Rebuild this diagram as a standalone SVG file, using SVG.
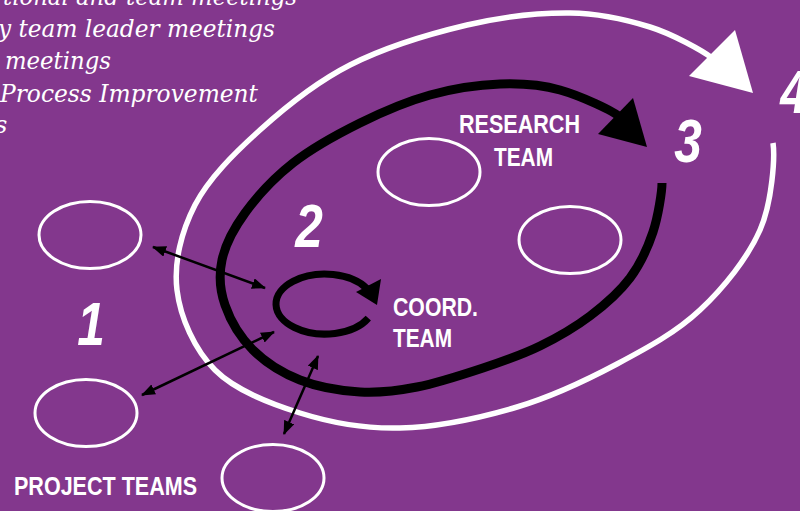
<svg xmlns="http://www.w3.org/2000/svg" width="800" height="511" viewBox="0 0 800 511">
<defs>
<style>
.bg{fill:#83378D}
.team{fill:none;stroke:#fff;stroke-width:3}
.note{font-family:"DejaVu Serif","Liberation Serif",serif;font-style:italic;font-size:24px;fill:#fff}
.lbl{font-family:"Liberation Sans",Arial,sans-serif;font-weight:bold;font-size:25px;fill:#fff}
.num{font-family:"Liberation Sans",Arial,sans-serif;font-weight:bold;font-style:italic;font-size:62px;fill:#fff;text-anchor:middle}
.link{stroke:#000;stroke-width:2.5;fill:none;marker-start:url(#ah);marker-end:url(#ah)}
</style>
<marker id="ah" viewBox="0 0 14 11" refX="13" refY="5.5" markerWidth="14" markerHeight="11" markerUnits="userSpaceOnUse" orient="auto-start-reverse">
<path d="M0,0 L14,5.5 L0,11 z" fill="#000"/>
</marker>
</defs>
<rect class="bg" x="0" y="0" width="800" height="511"/>

<g id="notes">
<text class="note" x="3" y="5" textLength="294" lengthAdjust="spacingAndGlyphs">tional and team meetings</text>
<text class="note" x="-2" y="37" textLength="277" lengthAdjust="spacingAndGlyphs">y team leader meetings</text>
<text class="note" x="5" y="69" textLength="106" lengthAdjust="spacingAndGlyphs">meetings</text>
<text class="note" x="0" y="102" textLength="258" lengthAdjust="spacingAndGlyphs">Process Improvement</text>
<text class="note" x="-5" y="133">s</text>
</g>

<g id="stage-rings">
<path d="M773,143 C775,157 772.2,202.2 760,230 C747.8,257.8 723.8,287.7 700,310 C676.2,332.3 647.5,347.8 617,364 C586.5,380.2 553.2,396.3 517,407 C480.8,417.7 436.2,427 400,428 C363.8,429 330.8,422.7 300,413 C269.2,403.3 235.5,390.5 215,370 C194.5,349.5 180.3,317.5 177,290 C173.7,262.5 181.2,231.7 195,205 C208.8,178.3 234.2,153.3 260,130 C285.8,106.7 315.5,82.5 350,65 C384.5,47.5 430.3,33.7 467,25 C503.7,16.3 539.5,12.7 570,13 C600.5,13.3 627.5,20 650,27 C672.5,34 703,51 712,58" fill="none" stroke="#fff" stroke-width="5.5"/>
<polygon points="735,30 753,93 689,76" fill="#fff"/>
<path d="M662,183 C662,191 658.3,216.2 653,232 C647.7,247.8 640.5,264 630,278 C619.5,292 605,304.7 590,316 C575,327.3 557.8,337.3 540,346 C522.2,354.7 503.5,361.2 483,368 C462.5,374.8 437.5,383 417,387 C396.5,391 379.5,393.2 360,392 C340.5,390.8 317.8,387 300,380 C282.2,373 265.5,362.5 253,350 C240.5,337.5 230.2,320 225,305 C219.8,290 218.7,275.3 222,260 C225.3,244.7 233.2,229.2 245,213 C256.8,196.8 273.8,178 293,163 C312.2,148 337.2,134.3 360,123 C382.8,111.7 406.7,101.5 430,95 C453.3,88.5 478.3,84.8 500,84 C521.7,83.2 539.8,84.3 560,90 C580.2,95.7 614,111 621,118" fill="none" stroke="#000" stroke-width="9"/>
<polygon points="633,98 647,147 598,134" fill="#000"/>
<g transform="translate(91,345) scale(0.8,1)"><text class="num" x="0" y="0">1</text></g>
<g transform="translate(309,247) scale(0.8,1)"><text class="num" x="0" y="0">2</text></g>
<g transform="translate(688,162) scale(0.8,1)"><text class="num" x="0" y="0">3</text></g>
<g transform="translate(794,113) scale(0.8,1)"><text class="num" x="0" y="0">4</text></g>
</g>

<g id="project-teams">
<ellipse class="team" cx="90" cy="235" rx="51" ry="33.5"/>
<ellipse class="team" cx="86" cy="413" rx="51" ry="33.5"/>
<ellipse class="team" cx="273" cy="478" rx="51" ry="33.5"/>
<text class="lbl" x="14" y="495" textLength="183" lengthAdjust="spacingAndGlyphs">PROJECT TEAMS</text>
</g>

<g id="research-team">
<ellipse class="team" cx="429" cy="172" rx="51" ry="33.5"/>
<ellipse class="team" cx="570" cy="240" rx="51" ry="33.5"/>
<text class="lbl" x="459" y="133" textLength="121" lengthAdjust="spacingAndGlyphs">RESEARCH</text>
<text class="lbl" x="494" y="166" textLength="59" lengthAdjust="spacingAndGlyphs">TEAM</text>
</g>

<g id="coord-team">
<path d="M368.3,318.1 A49,30 0 1 1 367.4,289" fill="none" stroke="#000" stroke-width="7"/>
<polygon points="356,292 381,279 377,305" fill="#000"/>
<text class="lbl" x="393" y="316" textLength="85" lengthAdjust="spacingAndGlyphs">COORD.</text>
<text class="lbl" x="393" y="347" textLength="59" lengthAdjust="spacingAndGlyphs">TEAM</text>
</g>

<g id="connectors">
<line class="link" x1="153" y1="247" x2="265" y2="288"/>
<line class="link" x1="142" y1="395" x2="274" y2="332"/>
<line class="link" x1="284" y1="434" x2="318" y2="356"/>
</g>
</svg>
